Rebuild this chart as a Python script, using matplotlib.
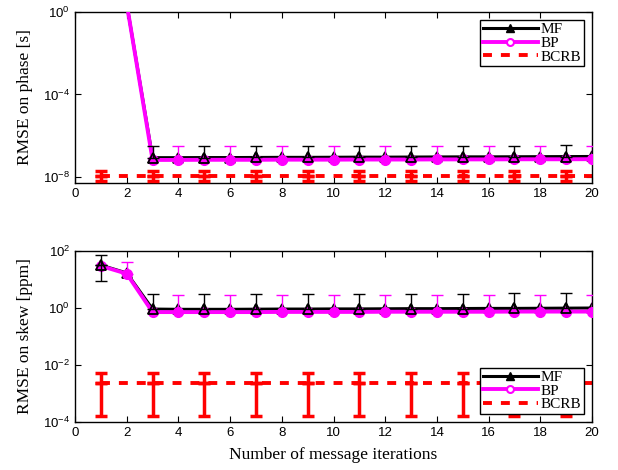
import numpy as np
import matplotlib
matplotlib.use("Agg")
import matplotlib.pyplot as plt
from matplotlib.lines import Line2D

plt.rcParams['font.family'] = 'sans-serif'
plt.rcParams['font.sans-serif'] = ['Liberation Sans', 'DejaVu Sans']
plt.rcParams['mathtext.fontset'] = 'custom'
plt.rcParams['mathtext.rm'] = 'Liberation Sans'
plt.rcParams['mathtext.it'] = 'Liberation Sans:italic'

# data
iters = list(range(1, 21))

phase_mf = [50, 2.5, 8.5e-8, 8.5e-8, 8.6e-8, 8.6e-8, 8.7e-8, 8.8e-8, 8.8e-8, 8.9e-8,
            9.0e-8, 9.0e-8, 9.1e-8, 9.2e-8, 9.3e-8, 9.3e-8, 9.4e-8, 9.5e-8, 9.6e-8, 9.7e-8]
phase_bp = [50, 2.5, 6.6e-8, 6.6e-8, 6.7e-8, 6.7e-8, 6.7e-8, 6.8e-8, 6.8e-8, 6.8e-8,
            6.9e-8, 6.9e-8, 6.9e-8, 7.0e-8, 7.0e-8, 7.0e-8, 7.1e-8, 7.1e-8, 7.1e-8, 7.2e-8]
phase_bcrb = [1.1e-8] * 20

# error bar bounds (low, high); MF on odd iterations, BP on even, BCRB on odd
# a low bound of None means the lower bar falls below zero and is not drawn
phase_mf_lo = [None] * 10
phase_mf_hi = [100, 3.2e-7, 3.2e-7, 3.2e-7, 3.2e-7, 3.2e-7, 3.3e-7, 3.3e-7, 3.3e-7, 3.4e-7]
phase_bp_lo = [None] * 10
phase_bp_hi = [5.0, 3.0e-7, 3.0e-7, 3.0e-7, 3.0e-7, 3.0e-7, 3.0e-7, 3.0e-7, 3.1e-7, 3.1e-7]
phase_bcrb_lo = [6e-9] * 10
phase_bcrb_hi = [2e-8] * 10

skew_mf = [32, 17, 0.92, 0.90, 0.90, 0.90, 0.91, 0.92, 0.92, 0.93,
           0.93, 0.94, 0.95, 0.95, 0.96, 0.97, 0.97, 0.98, 0.99, 1.0]
skew_bp = [30, 16, 0.72, 0.72, 0.72, 0.72, 0.72, 0.73, 0.73, 0.73,
           0.73, 0.74, 0.74, 0.74, 0.74, 0.74, 0.75, 0.75, 0.75, 0.75]
skew_bcrb = [2.3e-3] * 20

skew_mf_lo = [9, None, None, None, None, None, None, None, None, None]
skew_mf_hi = [72, 3.1, 3.2, 3.2, 3.2, 3.2, 3.2, 3.2, 3.3, 3.3]
skew_bp_lo = [None] * 10
skew_bp_hi = [41, 2.9, 2.9, 2.9, 2.9, 2.9, 2.9, 2.9, 2.9, 2.9]
skew_bcrb_lo = [1.6e-4] * 10
skew_bcrb_hi = [5.2e-3] * 10

xticks = list(range(0, 21, 2))
serif = 'Liberation Serif'
dash = (2.3, 2.3)


def bars(ax, x, y, lo, hi, color, lw, cap):
    y = np.array(y, dtype=float)
    hi = np.array(hi, dtype=float)
    lo = np.array([v if v is not None else np.nan for v in lo], dtype=float)
    # upper part
    ax.errorbar(x, y, yerr=[np.zeros_like(y), hi - y], fmt='none', ecolor=color,
                elinewidth=lw, capsize=cap, capthick=lw, zorder=5)
    ok = ~np.isnan(lo)
    if ok.any():
        ax.errorbar(np.array(x)[ok], y[ok], yerr=[y[ok] - lo[ok], np.zeros(ok.sum())],
                    fmt='none', ecolor=color, elinewidth=lw, capsize=cap, capthick=lw,
                    zorder=5)


def draw(ax, mf, bp, bcrb, mf_lo, mf_hi, bp_lo, bp_hi, cr_lo, cr_hi):
    x = np.array(iters)
    mf = np.array(mf); bp = np.array(bp); bcrb = np.array(bcrb)
    odd = x[0::2]; even = x[1::2]
    ax.plot(x, bcrb, '--', color='red', lw=2.8, dashes=dash, zorder=2)
    bars(ax, odd, bcrb[0::2], cr_lo, cr_hi, 'red', 2.5, 4.5)
    ax.plot(x, mf, '-', color='black', lw=2.2, marker='^', ms=6.5, mfc='none',
            mew=1.2, zorder=3)
    ax.plot(x, bp, '-', color='magenta', lw=2.8, marker='o', ms=7, mfc='magenta',
            mec='magenta', zorder=4)
    bars(ax, odd, mf[0::2], mf_lo, mf_hi, 'black', 1.0, 4.5)
    bars(ax, even, bp[1::2], bp_lo, bp_hi, 'magenta', 1.0, 4.5)
    ax.plot(odd, mf[0::2], 'none', marker='^', ms=6.5, mfc='none', mec='black',
            mew=1.3, zorder=6)
    ax.set_yscale('log')
    ax.set_xlim(0, 20)
    ax.set_xticks(xticks)
    ax.tick_params(direction='in', top=True, right=True, length=4, labelsize=9.5)
    for s in ax.spines.values():
        s.set_linewidth(1.0)


def add_legend(ax, loc):
    handles = [
        Line2D([], [], color='black', lw=2.2, marker='^', ms=6, mfc='black', mec='black'),
        Line2D([], [], color='magenta', lw=2.8, marker='o', ms=5, mfc='white',
               mec='magenta', mew=1.5),
        Line2D([], [], color='red', lw=2.8, ls='--', dashes=dash),
    ]
    ax.legend(handles, ['MF', 'BP', 'BCRB'], loc=loc,
              prop={'family': serif, 'size': 11}, fancybox=False,
              edgecolor='black', framealpha=1, handlelength=3.6, labelspacing=0.0,
              borderpad=0.15, borderaxespad=0.55, handletextpad=0.2)


fig = plt.figure(figsize=(6.18, 4.70), dpi=100)
ax1 = fig.add_axes([0.1214, 0.6106, 0.8366, 0.3639])
ax2 = fig.add_axes([0.1214, 0.1021, 0.8366, 0.3638])

draw(ax1, phase_mf, phase_bp, phase_bcrb, phase_mf_lo, phase_mf_hi,
     phase_bp_lo, phase_bp_hi, phase_bcrb_lo, phase_bcrb_hi)
ax1.set_ylim(5e-9, 1)
ax1.set_yticks([1e-8, 1e-4, 1])
ax1.minorticks_off()
ax1.set_ylabel('RMSE on phase [s]', family=serif, fontsize=12.5, labelpad=7)
add_legend(ax1, 'upper right')

draw(ax2, skew_mf, skew_bp, skew_bcrb, skew_mf_lo, skew_mf_hi,
     skew_bp_lo, skew_bp_hi, skew_bcrb_lo, skew_bcrb_hi)
ax2.set_ylim(1e-4, 1e2)
ax2.set_yticks([1e-4, 1e-2, 1, 1e2])
ax2.minorticks_off()
ax2.set_ylabel('RMSE on skew [ppm]', family=serif, fontsize=12.5, labelpad=7)
ax2.set_xlabel('Number of message iterations', family=serif, fontsize=12.5, labelpad=6)
add_legend(ax2, 'lower right')

fig.savefig('out.png', dpi=100)
